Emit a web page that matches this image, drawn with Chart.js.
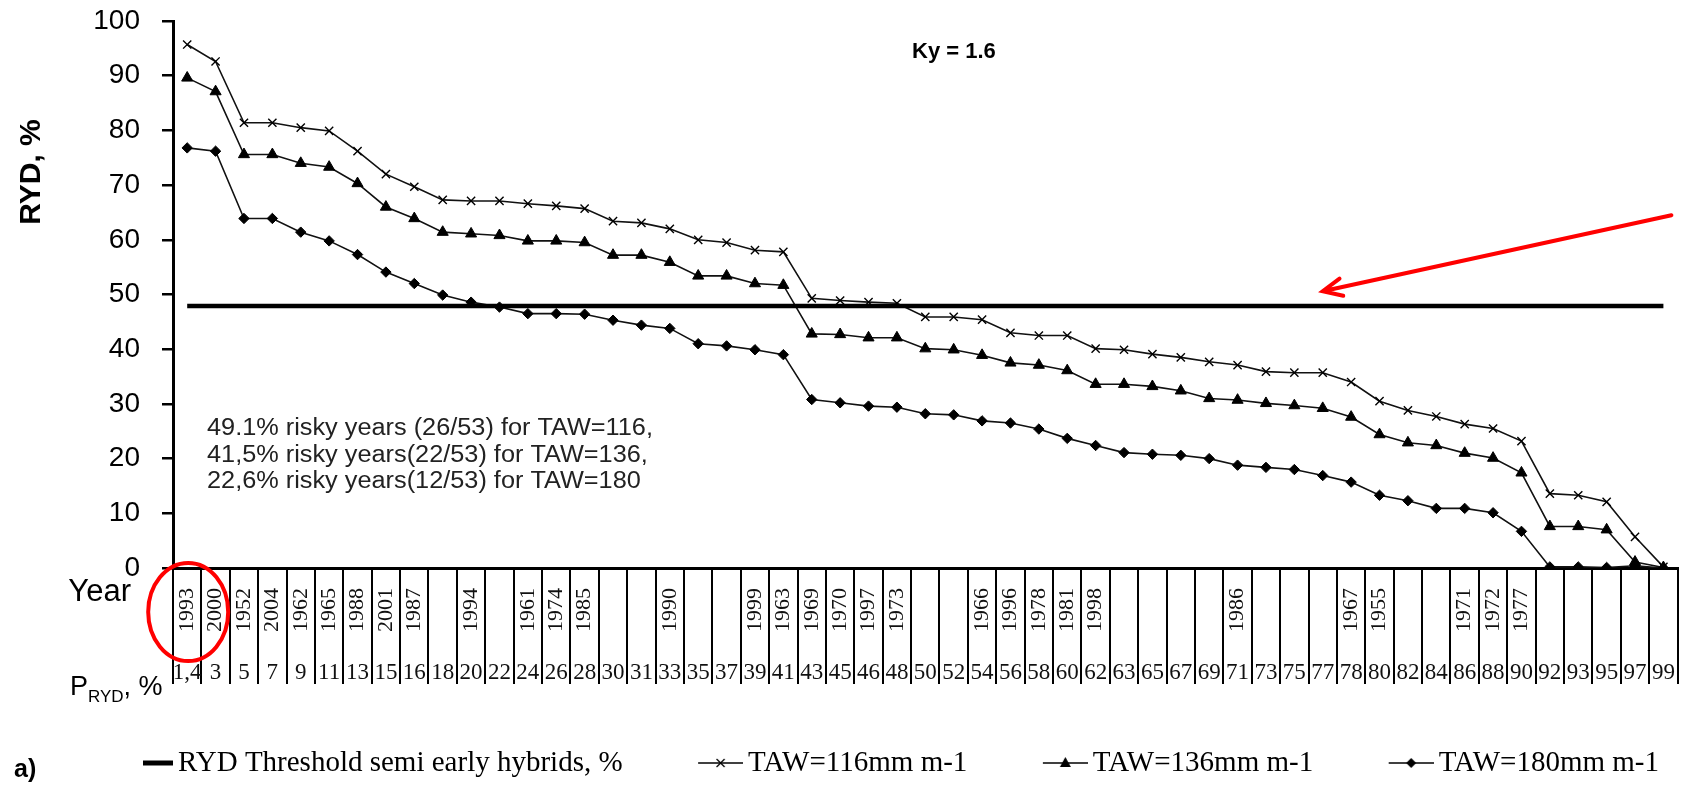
<!DOCTYPE html>
<html>
<head>
<meta charset="utf-8">
<title>RYD - Ky = 1.6</title>
<script src="https://cdn.jsdelivr.net/npm/chart.js@4.4.1/dist/chart.umd.min.js"></script>
<style>
  html, body { margin: 0; padding: 0; background: #fff; }
  #contenedor { width: 1685px; height: 788px; }
</style>
</head>
<body>
<div id="contenedor"><canvas id="grafico"></canvas></div>
<script>
//DATOS//
const years = ["1993", "2000", "1952", "2004", "1962", "1965", "1988", "2001", "1987", "", "1994", "", "1961", "1974", "1985", "", "", "1990", "", "",
  "1999", "1963", "1969", "1970", "1997", "1973", "", "", "1966", "1996", "1978", "1981", "1998", "", "", "", "", "1986", "", "",
  "", "1967", "1955", "", "", "1971", "1972", "1977", "", "", "", "", ""];

const pRyd = ["1,4", "3", "5", "7", "9", "11", "13", "15", "16", "18", "20", "22", "24", "26", "28", "30", "31", "33", "35", "37",
  "39", "41", "43", "45", "46", "48", "50", "52", "54", "56", "58", "60", "62", "63", "65", "67", "69", "71", "73", "75",
  "77", "78", "80", "82", "84", "86", "88", "90", "92", "93", "95", "97", "99"];

const taw116 = [95.7, 92.6, 81.4, 81.4, 80.5, 79.9, 76.2, 72.0, 69.7, 67.3, 67.1, 67.1, 66.6, 66.2, 65.7, 63.4, 63.1, 62.0, 60.0, 59.5,
  58.1, 57.8, 49.3, 48.9, 48.6, 48.4, 45.9, 45.9, 45.4, 43.0, 42.5, 42.5, 40.1, 39.9, 39.1, 38.5, 37.7, 37.1, 35.9, 35.7,
  35.7, 34.0, 30.5, 28.8, 27.7, 26.3, 25.5, 23.2, 13.6, 13.3, 12.1, 5.7, 0.2];

const taw136 = [89.6, 87.1, 75.6, 75.6, 74.0, 73.3, 70.3, 66.0, 63.9, 61.4, 61.1, 60.8, 59.8, 59.8, 59.5, 57.2, 57.2, 55.9, 53.4, 53.4,
  52.0, 51.7, 42.8, 42.7, 42.1, 42.1, 40.1, 39.9, 38.9, 37.5, 37.1, 36.1, 33.6, 33.6, 33.2, 32.4, 31.0, 30.7, 30.1, 29.7,
  29.2, 27.6, 24.4, 22.9, 22.4, 21.0, 20.1, 17.4, 7.6, 7.6, 7.0, 1.1, 0.1];

const taw180 = [76.8, 76.2, 63.9, 63.9, 61.4, 59.8, 57.3, 54.1, 52.0, 49.9, 48.6, 47.7, 46.5, 46.5, 46.4, 45.3, 44.4, 43.8, 41.0, 40.6,
  39.9, 39.0, 30.8, 30.2, 29.6, 29.4, 28.2, 28.0, 26.9, 26.5, 25.4, 23.7, 22.4, 21.1, 20.8, 20.6, 20.0, 18.8, 18.4, 18.0,
  16.9, 15.7, 13.3, 12.3, 10.9, 10.9, 10.1, 6.7, 0.2, 0.2, 0.1, 0.4, 0];

const umbralRYD = 47.9; // RYD threshold semi early hybrids

const textoRiesgo = [
  "49.1% risky years (26/53) for TAW=116,",
  "41,5% risky years(22/53) for TAW=136,",
  "22,6% risky years(12/53) for TAW=180"
];

const SANS = '"Liberation Sans", Arial, sans-serif';
const SERIF = '"Liberation Serif", "Times New Roman", serif';

//SIMBOLOS PARA LA LEYENDA (linea + marcador)//
function simbolo(tipo) {
  const c = document.createElement("canvas");
  c.width = 110;
  c.height = 24;
  const g = c.getContext("2d");
  g.strokeStyle = "#000";
  g.fillStyle = "#000";
  g.lineWidth = tipo === "umbral" ? 5 : 1.5;
  g.beginPath();
  g.moveTo(tipo === "umbral" ? 80 : 65, 12);
  g.lineTo(110, 12);
  g.stroke();
  const cx = 87.5, cy = 12;
  g.lineWidth = 1.3;
  if (tipo === "cruz") {
    g.beginPath();
    g.moveTo(cx - 4, cy - 4); g.lineTo(cx + 4, cy + 4);
    g.moveTo(cx + 4, cy - 4); g.lineTo(cx - 4, cy + 4);
    g.stroke();
  } else if (tipo === "triangulo") {
    g.beginPath();
    g.moveTo(cx, cy - 6); g.lineTo(cx + 5.5, cy + 4); g.lineTo(cx - 5.5, cy + 4);
    g.closePath();
    g.fill();
  } else if (tipo === "rombo") {
    g.beginPath();
    g.moveTo(cx, cy - 5); g.lineTo(cx + 5, cy); g.lineTo(cx, cy + 5); g.lineTo(cx - 5, cy);
    g.closePath();
    g.fill();
  }
  return c;
}
const simbolos = [simbolo("umbral"), simbolo("cruz"), simbolo("triangulo"), simbolo("rombo")];

//TEXTOS, CIRCULO Y FLECHA//
const notas = {
  id: "notas",
  afterDraw(chart) {
    const ctx = chart.ctx;
    const x = chart.scales.x;
    const y = chart.scales.y;
    ctx.save();
    ctx.fillStyle = "#000";

    // titulo del eje y
    ctx.save();
    ctx.translate(32, 172);
    ctx.rotate(-Math.PI / 2);
    ctx.font = "bold 30px " + SANS;
    ctx.textAlign = "center";
    ctx.textBaseline = "middle";
    ctx.fillText("RYD, %", 0, 0);
    ctx.restore();

    ctx.textBaseline = "middle";
    ctx.textAlign = "left";
    ctx.font = "bold 22px " + SANS;
    ctx.fillText("Ky = 1.6", 912, 52);

    // texto de años de riesgo (un poco ensanchado como en el original)
    ctx.fillStyle = "#222";
    ctx.font = "23px " + SANS;
    textoRiesgo.forEach((t, i) => {
      ctx.save();
      ctx.translate(207, 429 + i * 26.3);
      ctx.scale(1.1, 1);
      ctx.fillText(t, 0, 0);
      ctx.restore();
    });

    ctx.fillStyle = "#000";
    ctx.font = "31px " + SANS;
    ctx.textAlign = "right";
    ctx.fillText("Year", 131, 592);

    ctx.textAlign = "left";
    ctx.font = "27px " + SANS;
    let px = 70;
    ctx.fillText("P", px, 688);
    px += ctx.measureText("P").width;
    ctx.font = "17px " + SANS;
    ctx.fillText("RYD", px, 697);
    px += ctx.measureText("RYD").width;
    ctx.font = "27px " + SANS;
    ctx.fillText(", %", px, 688);

    ctx.font = "bold 25px " + SANS;
    ctx.fillText("a)", 14, 770);

    // circulo rojo
    ctx.strokeStyle = "#ff0000";
    ctx.lineWidth = 4;
    ctx.beginPath();
    ctx.ellipse(x.getPixelForValue(0) + 1, 612, 40, 49, 0, 0, 2 * Math.PI);
    ctx.stroke();

    // flecha roja
    const tx = x.getPixelForValue(40), ty = y.getPixelForValue(50.6);
    const sx = x.getPixelForValue(52) + 8, sy = y.getPixelForValue(64.5);
    const ang = Math.atan2(ty - sy, tx - sx);
    ctx.lineCap = "round";
    ctx.beginPath();
    ctx.moveTo(sx, sy);
    ctx.lineTo(tx, ty);
    ctx.moveTo(tx - 21 * Math.cos(ang - 0.43), ty - 21 * Math.sin(ang - 0.43));
    ctx.lineTo(tx, ty);
    ctx.lineTo(tx - 21 * Math.cos(ang + 0.43), ty - 21 * Math.sin(ang + 0.43));
    ctx.stroke();
    ctx.restore();
  }
};

//GRAFICO//
const grafico = document.getElementById("grafico");

const chart = new Chart(grafico, {
  type: "line",
  data: {
    labels: years,
    datasets: [
      {
        label: "RYD Threshold semi early hybrids, %",
        data: years.map(() => umbralRYD),
        borderColor: "#000",
        borderWidth: 4.5,
        pointRadius: 0
      },
      {
        label: "TAW=116mm m-1",
        data: taw116,
        borderColor: "#111",
        borderWidth: 1.6,
        pointStyle: "crossRot",
        pointRadius: 5.8,
        pointBorderWidth: 1.4,
        pointBorderColor: "#000"
      },
      {
        label: "TAW=136mm m-1",
        data: taw136,
        borderColor: "#111",
        borderWidth: 1.6,
        pointStyle: "triangle",
        pointRadius: 6.4,
        pointBorderWidth: 1,
        pointBackgroundColor: "#000",
        pointBorderColor: "#000"
      },
      {
        label: "TAW=180mm m-1",
        data: taw180,
        borderColor: "#111",
        borderWidth: 1.6,
        pointStyle: "rectRot",
        pointRadius: 5.2,
        pointBorderWidth: 1,
        pointBackgroundColor: "#000",
        pointBorderColor: "#000"
      }
    ]
  },
  options: {
    responsive: true,
    maintainAspectRatio: false,
    animation: false,
    layout: { padding: { left: 52.5, right: 6, top: 21, bottom: 0.5 } },
    elements: { line: { tension: 0 } },
    plugins: {
      tooltip: { enabled: false },
      legend: {
        position: "bottom",
        align: "start",
        labels: {
          usePointStyle: true,
          pointStyleWidth: 91,
          padding: 20,
          color: "#000",
          font: { family: SERIF, size: 29 },
          generateLabels: (c) => c.data.datasets.map((ds, i) => ({
            text: ds.label,
            pointStyle: simbolos[i],
            fillStyle: "rgba(0,0,0,0)",
            strokeStyle: "rgba(0,0,0,0)",
            lineWidth: 0,
            hidden: false,
            datasetIndex: i,
            fontColor: "#000"
          }))
        }
      }
    },
    scales: {
      y: {
        min: 0,
        max: 100,
        afterFit: (s) => { s.width = 120.5; s.paddingTop = 0; s.paddingBottom = 0; },
        ticks: { stepSize: 10, padding: 22, color: "#000", font: { family: SANS, size: 28 } },
        grid: { drawOnChartArea: false, drawTicks: true, tickLength: 11, color: "#000", lineWidth: 2.5 },
        border: { display: true, color: "#000", width: 3 }
      },
      x: {
        type: "category",
        offset: true,
        afterFit: (s) => { s.height = 85; },
        ticks: {
          autoSkip: false,
          minRotation: 90,
          maxRotation: 90,
          padding: -65,
          color: "#111",
          font: { family: SERIF, size: 22 }
        },
        grid: { offset: true, drawOnChartArea: false, drawTicks: true, tickLength: 85, color: "#000", lineWidth: 2 },
        border: { display: true, color: "#000", width: 3 }
      },
      x2: {
        type: "category",
        labels: pRyd,
        position: "bottom",
        offset: true,
        weight: 1,
        afterFit: (s) => { s.height = 75.5; },
        ticks: {
          autoSkip: false,
          minRotation: 0,
          maxRotation: 0,
          padding: -25,
          color: "#111",
          font: { family: SERIF, size: 23 }
        },
        grid: { offset: true, drawOnChartArea: false, drawTicks: true, tickLength: 31, color: "#000", lineWidth: 2 },
        border: { display: false }
      }
    }
  },
  plugins: [notas]
});
</script>
</body>
</html>
